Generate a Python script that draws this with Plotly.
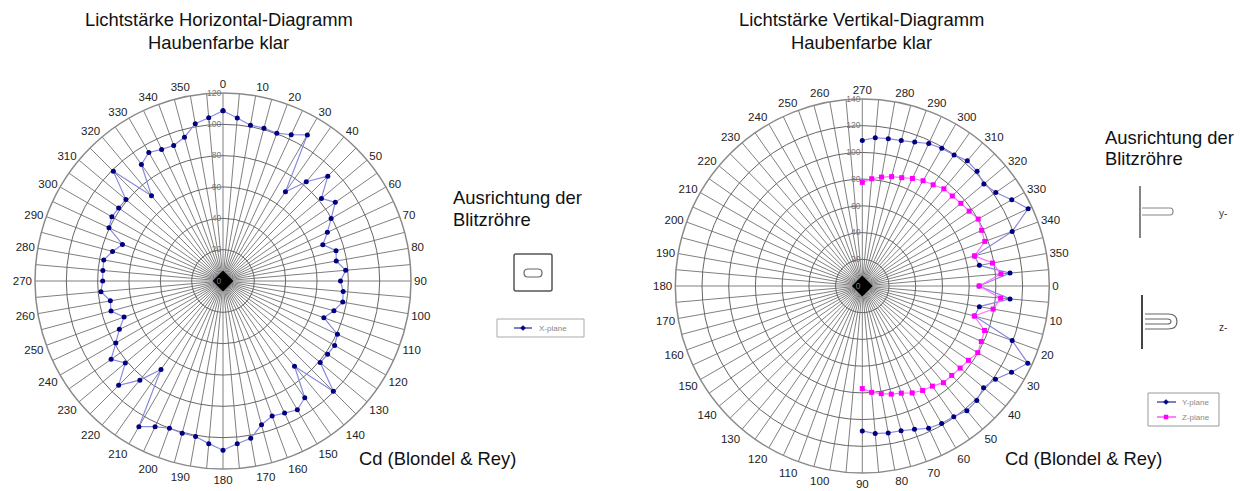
import plotly.graph_objects as go

W, H = 1248, 491

angles_x = [0,5,10,15,20,25,30,35,40,45,50,55,60,65,70,75,80,85,90,95,100,105,110,115,120,125,130,135,140,145,150,155,160,165,170,175,
            180,185,190,195,200,205,210,215,220,225,230,235,240,245,250,255,260,265,270,275,280,285,290,295,300,305,310,315,320,325,330,335,340,345,350,355,0]
x_plane = [108.7,104.5,101,101,100.4,103,107.7,69.5,82.7,94.6,82,87.5,79.7,73.5,67.8,74.7,73.4,78.6,75,77,77.6,73.3,68.5,80.6,82.3,81.5,81,99.6,71,91,94.9,93,91.7,95,102,104.3,
           108,104.2,100.8,100.6,100,102.6,107.4,69,82.6,94.2,81.4,87.2,79,73,67.2,74,73,78.2,76.8,77,77.3,73,68.3,80.3,81.9,81.3,80.9,99,71,90.8,94.7,92.7,92,95,102,104.6,108.7]

angles_yz = [270,275,280,285,290,295,300,305,310,315,320,325,330,335,340,345,350,355,0,5,10,15,20,25,30,35,40,45,50,55,60,65,70,75,80,85,90]
y_plane = [109,111.4,112,112.7,114.7,117.7,119,119.8,122.3,121.5,118.8,122,129.2,137,119.4,87,89,111,87.5,111,89,87,119.4,136.7,129,121.7,118.5,121.2,121.8,119.4,118.8,117.5,114.2,112.2,111.7,110.9,108.5]
z_plane = [77.6,80.6,82.8,84.8,86.3,88.8,91,92.5,95,95.3,96.3,97.7,100.2,98.6,97.6,87,99,104.2,87.5,104,99.5,86.8,97.4,98.3,99.8,97,95.6,94.7,94.5,91.5,90.3,88.3,85.4,83.8,81.8,79.9,76.8]

spoke_vals = [0,5,10,15,20,25,30,35,40,45,50,55,60,65,70,75,80,85,90,95,100,105,110,115,120,125,130,135,140,145,150,155,160,165,170,175,
              180,185,190,195,200,205,210,215,220,225,230,235,240,245,250,255,260,265,270,275,280,285,290,295,300,305,310,315,320,325,330,335,340,345,350,355]
spoke_text = [str(a) if a % 10 == 0 else "" for a in spoke_vals]
ticks_x = [0,20,40,60,80,100,120]
ticks_yz = [0,20,40,60,80,100,120,140]

NAVY, BLUE_LINE, MAG, MAG_LINE = "#000080", "#8a8ae0", "#ff00ff", "#ff70ff"
FONT = "Liberation Sans"


def px(x): return x / W
def py(y): return 1 - y / H


def domain(cx, cy, r):
    return dict(x=[px(cx - r), px(cx + r)], y=[py(cy + r), py(cy - r)])


def polar(cx, cy, r, rmax, rticks, rotation):
    return dict(
        domain=domain(cx, cy, r), bgcolor="white",
        angularaxis=dict(thetaunit="degrees", rotation=rotation, direction="clockwise",
                         tickmode="array", tickvals=spoke_vals, ticktext=spoke_text,
                         ticks="",
                         tickfont=dict(family=FONT, size=11.5, color="#222"),
                         gridcolor="#808080", gridwidth=1.2, linecolor="#8a8a8a", linewidth=1.5, showline=True),
        radialaxis=dict(range=[0, rmax], tickmode="array", tickvals=rticks, angle=90, tickangle=90,
                        side="counterclockwise", showline=False, ticks="",
                        tickfont=dict(family=FONT, size=8.5, color="#777"),
                        gridcolor="#666666", gridwidth=1.4, layer="above traces"),
    )


fig = go.Figure()


def center(subplot):
    fig.add_trace(go.Scatterpolar(r=[0], theta=[0], subplot=subplot, mode="markers", showlegend=False, hoverinfo="skip",
                                  marker=dict(symbol="diamond", size=16, color="black")))


center("polar")
fig.add_trace(go.Scatterpolar(r=x_plane, theta=angles_x, subplot="polar", name="X-plane", mode="lines+markers", showlegend=False,
                              line=dict(color=BLUE_LINE, width=1.2), marker=dict(color=NAVY, size=5)))
center("polar2")
fig.add_trace(go.Scatterpolar(r=y_plane, theta=angles_yz, subplot="polar2", name="Y-plane", mode="lines+markers", showlegend=False,
                              line=dict(color=BLUE_LINE, width=1.2), marker=dict(color=NAVY, size=5)))
fig.add_trace(go.Scatterpolar(r=z_plane, theta=angles_yz, subplot="polar2", name="Z-plane", mode="lines+markers", showlegend=False,
                              line=dict(color=MAG_LINE, width=1.2), marker=dict(color=MAG, size=5, symbol="square")))


def note(x, y, text, size=18.4, anchor="center", color="#111"):
    return dict(x=px(x), y=py(y), xref="paper", yref="paper", text=text, showarrow=False, xanchor=anchor, yanchor="middle",
                align="left" if anchor == "left" else "center", font=dict(family=FONT, size=size, color=color))


annotations = [
    note(219, 20, "Lichtstärke Horizontal-Diagramm"), note(219, 42, "Haubenfarbe klar"),
    note(861.5, 20, "Lichtstärke Vertikal-Diagramm"), note(861.5, 42, "Haubenfarbe klar"),
    note(451, 198, "Ausrichtung der", 18.4, "left"), note(451, 219, "Blitzröhre", 18.4, "left"),
    note(1103, 137, "Ausrichtung der", 18.4, "left"), note(1103, 159, "Blitzröhre", 18.4, "left"),
    note(357, 458, "Cd (Blondel &amp; Rey)", 18.4, "left"), note(1003, 458, "Cd (Blondel &amp; Rey)", 18.4, "left"),
    note(1223, 213, "y-", 10, "center", "#333"), note(1223, 327, "z-", 10, "center", "#333"),
    note(537, 328, "X-plane", 8, "left", "#888"),
    note(1180, 402, "Y-plane", 8, "left", "#888"), note(1180, 417, "Z-plane", 8, "left", "#888"),
]


def path(cmds):
    s = ""
    for c in cmds:
        s += (" " + c + " ") if isinstance(c, str) else f" {px(c[0])},{py(c[1])}"
    return s.strip()


def shp(cmds, color="#555", width=1.5, fill=None):
    d = dict(type="path", xref="paper", yref="paper", path=path(cmds), line=dict(color=color, width=width))
    if fill:
        d["fillcolor"] = fill
    return d


def pill(x0, x1, y0, y1):
    return ["M", (x0 + 4, y0), "L", (x1 - 4, y0), "Q", (x1, y0), (x1, (y0 + y1) / 2), "Q", (x1, y1), (x1 - 4, y1),
            "L", (x0 + 4, y1), "Q", (x0, y1), (x0, (y0 + y1) / 2), "Q", (x0, y0), (x0 + 4, y0), "Z"]


def diamond(x, y, r):
    return shp(["M", (x - r, y), "L", (x, y - r), "L", (x + r, y), "L", (x, y + r), "Z"], NAVY, 0.5, NAVY)


def box(x0, y0, x1, y1, color):
    return shp(["M", (x0, y0), "L", (x1, y0), "L", (x1, y1), "L", (x0, y1), "Z"], color, 1)


shapes = [
    shp(["M", (516, 254), "L", (550, 254), "Q", (552, 254), (552, 256), "L", (552, 289), "Q", (552, 291), (550, 291),
         "L", (516, 291), "Q", (514, 291), (514, 289), "L", (514, 256), "Q", (514, 254), (516, 254), "Z"], "#555", 1.5),
    shp(pill(524, 542, 269, 277), "#666", 1.2),
    shp(["M", (1140, 186), "L", (1140, 238)], "#666", 1.6),
    shp(["M", (1142, 208), "L", (1170, 208), "Q", (1173, 208), (1173, 211.5), "Q", (1173, 215), (1170, 215), "L", (1142, 215)], "#888", 1.2),
    shp(["M", (1142, 295), "L", (1142, 349)], "#444", 2),
    shp(["M", (1145, 314), "L", (1168, 314), "Q", (1177, 314), (1177, 321.5), "Q", (1177, 329), (1168, 329), "L", (1145, 329)], "#666", 1.2),
    shp(["M", (1145, 319), "L", (1167, 319), "Q", (1171, 319), (1171, 321.5), "Q", (1171, 324), (1167, 324), "L", (1145, 324)], "#666", 1.2),
    box(497, 319, 584, 337, "#aaa"),
    shp(["M", (514, 328), "L", (532, 328)], NAVY, 1),
    diamond(523, 328, 2.5),
    box(1148, 393, 1219, 426, "#999"),
    shp(["M", (1157, 402), "L", (1176, 402)], NAVY, 1),
    diamond(1166, 402, 2.5),
    shp(["M", (1157, 417), "L", (1176, 417)], MAG, 1),
    shp(["M", (1164, 415), "L", (1168, 415), "L", (1168, 419), "L", (1164, 419), "Z"], MAG, 0.5, MAG),
]

fig.update_layout(
    width=W, height=H, margin=dict(l=0, r=0, t=0, b=0), paper_bgcolor="white", showlegend=False,
    polar=polar(223, 281, 188, 120, ticks_x, 90),
    polar2=polar(862.3, 286, 187, 140, ticks_yz, 0),
    annotations=annotations, shapes=shapes,
)

fig.write_html("out.html", post_script="document.body.style.margin='0';", config={"displayModeBar": False})
